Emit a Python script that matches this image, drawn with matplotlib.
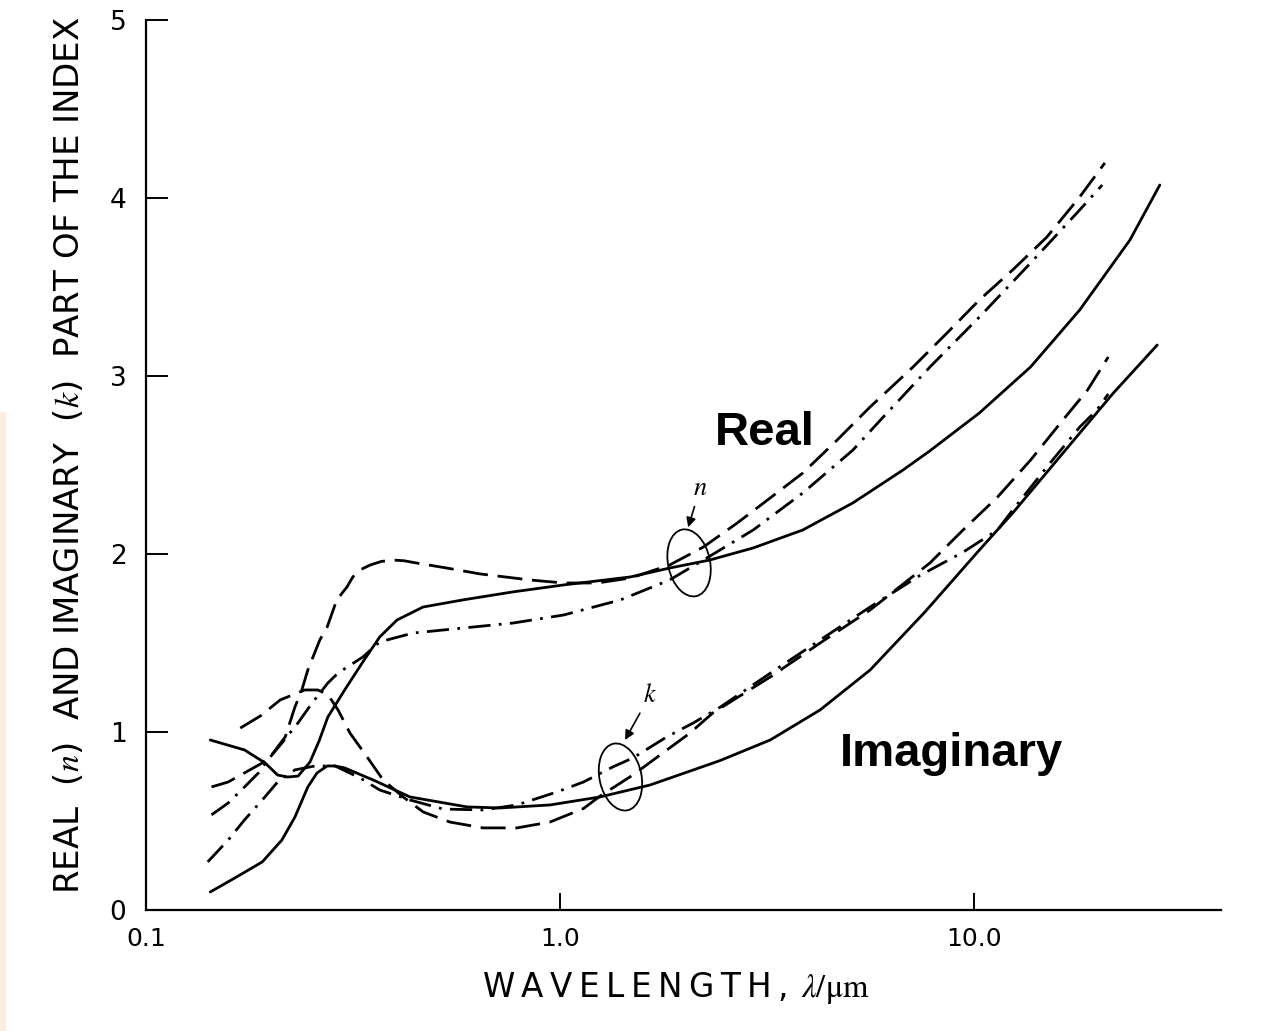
import matplotlib
matplotlib.use("Agg")
import matplotlib.pyplot as plt
from matplotlib.patches import Ellipse, Rectangle
from matplotlib.transforms import ScaledTranslation

plt.rcParams["font.family"] = ["DejaVu Sans"]
plt.rcParams["mathtext.fontset"] = "stix"

# values (wavelength in um, index)
n_solid_wl = [0.143, 0.173, 0.194, 0.208, 0.220, 0.233, 0.249, 0.262, 0.275, 0.302, 0.334, 0.367,
              0.404, 0.467, 0.583, 0.770, 1.02, 1.48, 1.84, 2.30, 2.93, 3.86, 5.10, 6.74, 7.83,
              10.3, 13.7, 18.0, 23.8, 28.1]
n_solid = [0.955, 0.899, 0.826, 0.758, 0.747, 0.752, 0.831, 0.950, 1.084, 1.236, 1.393, 1.534,
           1.629, 1.702, 1.742, 1.787, 1.826, 1.871, 1.921, 1.966, 2.034, 2.135, 2.287, 2.472, 2.580,
           2.792, 3.051, 3.371, 3.764, 4.073]

n_dash_wl = [0.144, 0.158, 0.173, 0.191, 0.203, 0.208, 0.217, 0.229, 0.238, 0.246, 0.263, 0.274,
             0.289, 0.306, 0.316, 0.330, 0.348, 0.370, 0.395, 0.420, 0.451, 0.533, 0.641, 0.846,
             1.02, 1.23, 1.48, 1.84, 2.22, 2.68, 3.22, 3.86, 4.67, 5.61, 7.12, 8.61, 10.3, 12.4,
             15.0, 18.0, 20.7]
n_dash = [0.691, 0.719, 0.770, 0.826, 0.882, 0.916, 0.972, 1.140, 1.236, 1.348, 1.517, 1.590,
          1.742, 1.815, 1.871, 1.912, 1.938, 1.958, 1.966, 1.962, 1.949, 1.921, 1.888, 1.854,
          1.837, 1.837, 1.865, 1.938, 2.039, 2.174, 2.315, 2.455, 2.640, 2.826, 3.050, 3.242, 3.427,
          3.596, 3.781, 4.006, 4.197]

n_dashdot_wl = [0.144, 0.158, 0.173, 0.187, 0.197, 0.213, 0.233, 0.252, 0.275, 0.291, 0.334, 0.367,
                0.442, 0.583, 0.770, 1.02, 1.40, 1.84, 2.22, 2.93, 3.86, 5.10, 5.93, 7.83, 10.3,
                13.7, 18.0, 20.4]
n_dashdot = [0.534, 0.601, 0.691, 0.770, 0.843, 0.938, 1.051, 1.163, 1.275, 1.331, 1.421, 1.506,
             1.556, 1.584, 1.612, 1.657, 1.742, 1.854, 1.966, 2.135, 2.343, 2.584, 2.750, 3.051, 3.331,
             3.635, 3.933, 4.073]

k_solid_wl = [0.143, 0.164, 0.191, 0.213, 0.229, 0.246, 0.259, 0.274, 0.286, 0.302, 0.358, 0.434,
              0.596, 0.716, 0.946, 1.25, 1.65, 2.18, 2.44, 3.22, 4.25, 5.61, 7.61, 10.3, 12.4,
              16.4, 21.7, 27.7]
k_solid = [0.101, 0.180, 0.270, 0.393, 0.522, 0.691, 0.770, 0.809, 0.809, 0.798, 0.725, 0.635,
           0.579, 0.573, 0.590, 0.635, 0.702, 0.800, 0.840, 0.955, 1.124, 1.348, 1.674, 2.022, 2.230,
           2.567, 2.904, 3.174]

k_dash_wl = [0.169, 0.189, 0.211, 0.242, 0.260, 0.275, 0.291, 0.311, 0.342, 0.374, 0.418, 0.467,
             0.542, 0.652, 0.787, 0.946, 1.14, 1.25, 1.50, 2.06, 2.34, 3.22, 4.25, 5.61, 7.83,
             9.41, 11.4, 13.7, 16.4, 18.8, 21.1]
k_dash = [1.022, 1.090, 1.180, 1.236, 1.236, 1.210, 1.124, 0.994, 0.860, 0.730, 0.635, 0.551,
          0.494, 0.461, 0.461, 0.494, 0.570, 0.640, 0.758, 0.994, 1.107, 1.309, 1.500, 1.685, 1.950,
          2.135, 2.320, 2.528, 2.753, 2.921, 3.107]

k_dashdot_wl = [0.141, 0.158, 0.173, 0.191, 0.208, 0.229, 0.256, 0.286, 0.329, 0.367, 0.434, 0.522,
                0.652, 0.787, 0.983, 1.14, 1.34, 1.50, 1.81, 2.10, 2.44, 3.22, 4.25, 5.61, 7.41,
                9.41, 11.4, 12.4, 15.0, 18.0, 19.8, 21.1]
k_dashdot = [0.270, 0.393, 0.506, 0.618, 0.719, 0.787, 0.809, 0.809, 0.742, 0.674, 0.618, 0.567,
             0.562, 0.590, 0.663, 0.719, 0.803, 0.854, 0.972, 1.051, 1.140, 1.330, 1.517, 1.702, 1.880,
             2.010, 2.135, 2.247, 2.489, 2.713, 2.809, 2.899]

x_ticks = [0.1, 1.0, 10.0]
x_tick_labels = ["0.1", "1.0", "10.0"]
y_ticks = [0, 1, 2, 3, 4, 5]

fig = plt.figure(figsize=(12.69, 10.31), dpi=100)
ax = fig.add_axes([0.1150, 0.1174, 0.8472, 0.8632])

dashed = (0, (9, 3.5))
dashdot = (0, (8, 3, 1, 3))
lw = 2.0
for wl, vals, ls in [
    (n_solid_wl, n_solid, "-"),
    (n_dash_wl, n_dash, dashed),
    (n_dashdot_wl, n_dashdot, dashdot),
    (k_solid_wl, k_solid, "-"),
    (k_dash_wl, k_dash, dashed),
    (k_dashdot_wl, k_dashdot, dashdot),
]:
    ax.plot(wl, vals, color="black", lw=lw, ls=ls, solid_capstyle="round",
            solid_joinstyle="round", dash_capstyle="butt")

ax.set_xscale("log")
ax.set_xlim(0.1, 39.5)
ax.set_ylim(0, 5)
ax.set_xticks(x_ticks)
ax.set_xticklabels(x_tick_labels)
ax.xaxis.set_minor_locator(matplotlib.ticker.NullLocator())
ax.set_yticks(y_ticks)

for side in ["top", "right"]:
    ax.spines[side].set_visible(False)
for side in ["left", "bottom"]:
    ax.spines[side].set_linewidth(1.6)

ax.tick_params(axis="x", direction="in", length=12, width=1.4, labelsize=18, pad=12)
ax.tick_params(axis="y", direction="in", length=16, width=1.4, labelsize=19, pad=14)

ax.set_ylabel(r"REAL  ($n$)  AND IMAGINARY  ($k$)  PART OF THE INDEX", fontsize=24.5)
ax.yaxis.set_label_coords(-0.056, 0.511)
# the original lettering is widely tracked, so thin spaces stand in for it
xlab = "\u2009".join("WAVELENGTH,") + "\u2009\u2009" + r"$\lambda/\mathrm{μm}$"
ax.set_xlabel(xlab, fontsize=23.5)
ax.xaxis.set_label_coords(0.493, -0.068)

# grouping ellipses and their n / k markers
for (cx, cy) in [(2.05, 1.95), (1.40, 0.747)]:
    tr = fig.dpi_scale_trans + ScaledTranslation(cx, cy, ax.transData)
    ax.add_patch(Ellipse((0, 0), 0.42, 0.68, angle=12, transform=tr,
                         fill=False, lw=1.3, color="black"))

arrow = dict(arrowstyle="-|>", lw=1.2, color="black", shrinkA=2, shrinkB=0, mutation_scale=14)
ax.annotate(r"$n$", xy=(2.04, 2.15), xytext=(2.18, 2.37), fontsize=19,
            ha="center", va="center", arrowprops=arrow)
ax.annotate(r"$k$", xy=(1.436, 0.955), xytext=(1.65, 1.208), fontsize=19,
            ha="center", va="center", arrowprops=arrow)

ax.text(2.37, 2.61, "Real", fontsize=34, fontweight="bold", family="Liberation Sans",
        ha="left", va="baseline")
ax.text(4.75, 0.81, "Imaginary", fontsize=34, fontweight="bold", family="Liberation Sans",
        ha="left", va="baseline")

# faint tint along the left edge of the scan
fig.patches.append(Rectangle((0, 0), 5 / 1269, 0.6, transform=fig.transFigure,
                             color="#fdeee4", zorder=0))

fig.savefig("out.png", dpi=100)
